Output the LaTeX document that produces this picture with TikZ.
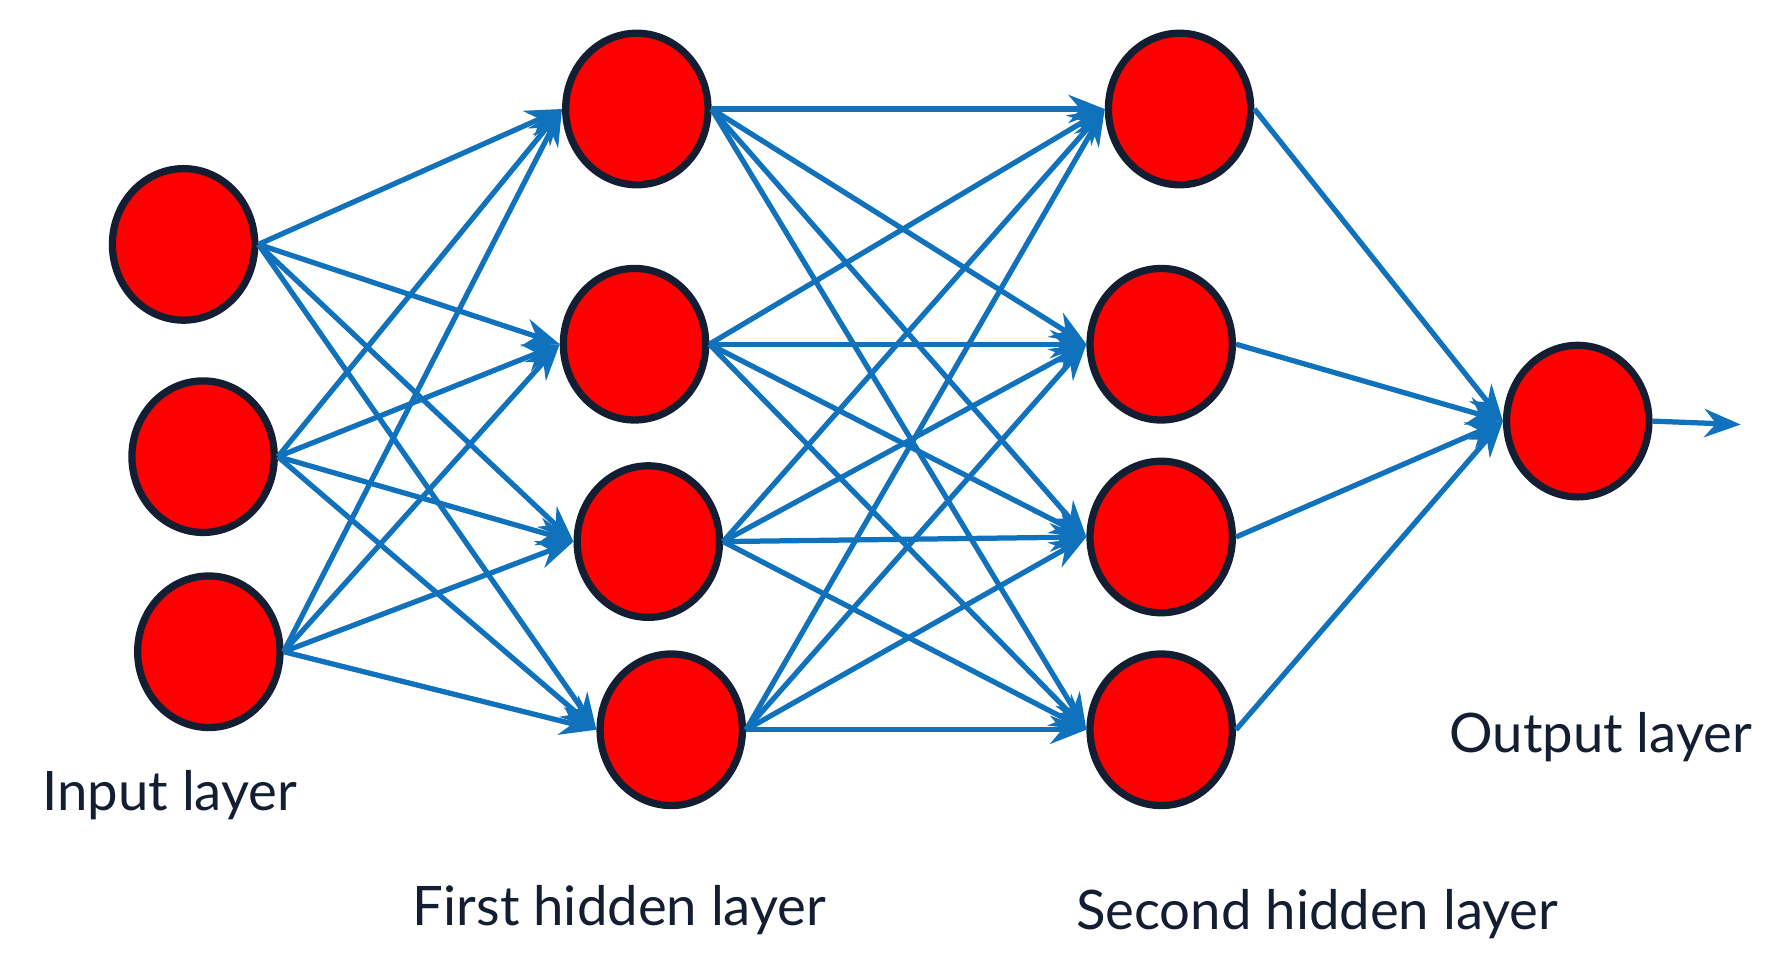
\documentclass[tikz,border=0pt]{standalone}
\usepackage{fontspec}
\setmainfont{Lato}
\usetikzlibrary{arrows.meta,shapes.geometric}
\definecolor{eblue}{RGB}{16,114,189}
\definecolor{nred}{RGB}{255,0,0}
\definecolor{nedge}{RGB}{20,30,50}
\begin{document}
\begin{tikzpicture}[x=0.01cm,y=-0.01cm,
  neuron/.style={ellipse,draw=nedge,line width=1.8pt,fill=nred,minimum width=1.24cm,minimum height=1.32cm,inner sep=0},
  conn/.style={draw=eblue,line width=1.3pt,-{Stealth[length=9pt,width=7pt]}},
  lab/.style={text=nedge,font=\fontsize{13.5pt}{15pt}\selectfont}]
\useasboundingbox (0,0) rectangle (1560,846);
\node[neuron] (i1) at (160,213) {};
\node[neuron] (i2) at (177,398) {};
\node[neuron] (i3) at (182,568) {};
\node[neuron] (a1) at (555,95) {};
\node[neuron] (a2) at (553,300) {};
\node[neuron] (a3) at (565,472) {};
\node[neuron] (a4) at (585,636) {};
\node[neuron] (b1) at (1028,95) {};
\node[neuron] (b2) at (1012,300) {};
\node[neuron] (b3) at (1012,468) {};
\node[neuron] (b4) at (1012,636) {};
\node[neuron] (o) at (1375,367) {};
\coordinate (out) at (1517,370);
\foreach \s in {i1,i2,i3}{\foreach \t in {a1,a2,a3,a4}{\draw[conn] (\s.east) -- (\t.west);}}
\foreach \s in {a1,a2,a3,a4}{\foreach \t in {b1,b2,b3,b4}{\draw[conn] (\s.east) -- (\t.west);}}
\foreach \s in {b1,b2,b3,b4}{\draw[conn] (\s.east) -- (o.west);}
\draw[conn] (o.east) -- (out);
\node[lab] (l1) at (148,693) {Input layer};
\node[lab] (l2) at (540,793) {First hidden layer};
\node[lab] (l3) at (1148,797) {Second hidden layer};
\node[lab] (l4) at (1395,642) {Output layer};
\end{tikzpicture}
\end{document}
